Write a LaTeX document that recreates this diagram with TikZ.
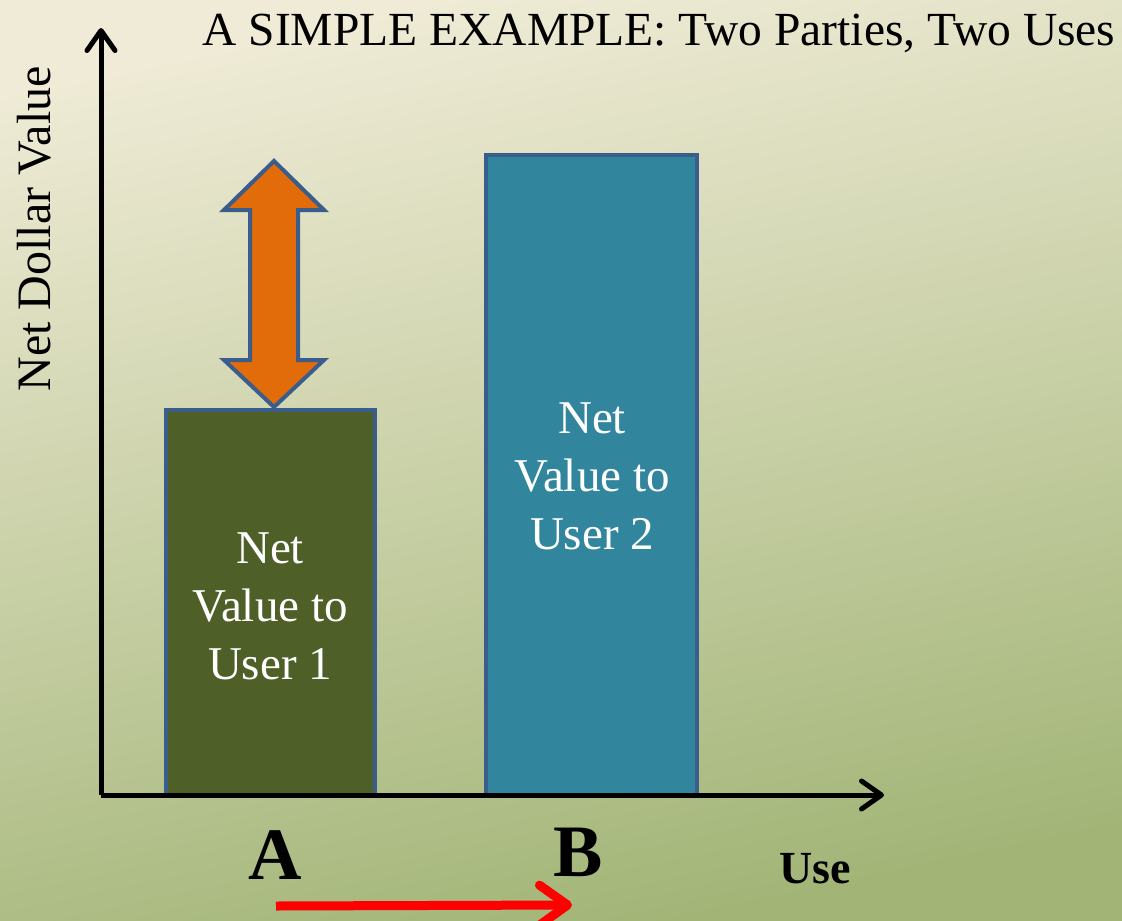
\documentclass[tikz,border=0pt]{standalone}
\usepackage{fontspec}
\setmainfont{Liberation Serif}
\usetikzlibrary{arrows.meta}
\definecolor{bgtop}{HTML}{EFEBD6}
\definecolor{bgbot}{HTML}{A2B577}
\definecolor{barone}{HTML}{4E5F27}
\definecolor{bartwo}{HTML}{31869E}
\definecolor{edgeblue}{HTML}{3A5D8C}
\definecolor{arroworange}{HTML}{E36C0A}
\tikzset{
  axisline/.style={line width=5pt, -{Straight Barb[length=20pt,width=28pt,line cap=round,line join=round]}},
  bar/.style={draw=edgeblue, line width=4pt, anchor=north west, inner sep=0pt, outer sep=0pt},
  bartext/.style={text=white, font=\fontsize{47}{58}\selectfont, align=center},
  letter/.style={font=\fontsize{74}{80}\selectfont\bfseries},
  moveline/.style={draw=red, line width=9pt, -{Straight Barb[length=28pt,width=40pt,line cap=round,line join=round]}}
}
\begin{document}
\begin{tikzpicture}[x=1pt,y=-1pt]
% background
\useasboundingbox (0,0) rectangle (1122,921);
\shade[top color=bgtop, bottom color=bgbot, shading angle=12] (0,0) rectangle (1122,921);

% bars
\node[bar, fill=barone, minimum width=209pt, minimum height=385pt] (bar1) at (166,410) {};
\node[bar, fill=bartwo, minimum width=211pt, minimum height=640pt] (bar2) at (486,155) {};
\node[bartext] (lab1) at (270,606) {Net\\Value to\\User 1};
\node[bartext] (lab2) at (592,476) {Net\\Value to\\User 2};

% axes
\coordinate (origin) at (101,795);
\coordinate (ytip) at (101,28);
\coordinate (xtip) at (884,795);
\draw[axisline] (origin) -- (ytip);
\draw[axisline] (origin) -- (xtip);

% orange double arrow above the first bar
\draw[draw=edgeblue, line width=4pt, fill=arroworange, line join=miter]
  (274,161) -- (324,210) -- (298,210) -- (298,360) -- (324,360) -- (274,407)
  -- (224,360) -- (250,360) -- (250,210) -- (224,210) -- cycle;

% labels
\node[anchor=base, font=\fontsize{47.5}{50}\selectfont] (title) at (659,45) {A SIMPLE EXAMPLE: Two Parties, Two Uses};
\node[rotate=90, anchor=base, font=\fontsize{48}{50}\selectfont] (ylabel) at (50,229) {Net Dollar Value};
\node[letter, anchor=base] (la) at (275,879) {A};
\node[letter, anchor=base] (lb) at (578,876) {B};
\node[anchor=base, font=\fontsize{46}{50}\selectfont\bfseries] (use) at (815,883) {Use};

% direction of movement
\coordinate (mstart) at (276,906);
\coordinate (mend) at (572,905);
\draw[moveline] (mstart) -- (mend);
\end{tikzpicture}
\end{document}
